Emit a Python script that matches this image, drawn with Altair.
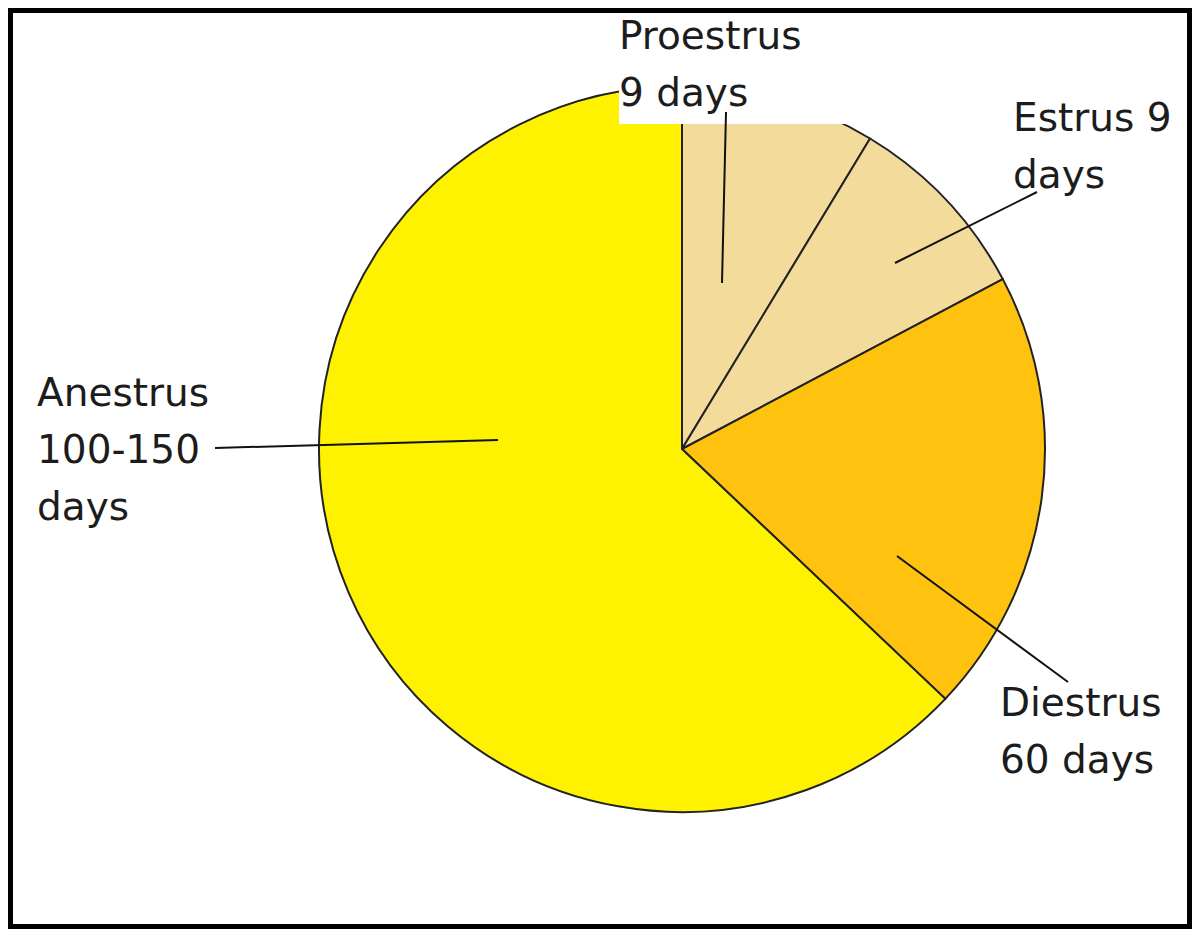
import altair as alt
import pandas as pd

# ---- data (slice sizes in degrees of the drawn pie) ----
phases = ["Proestrus", "Estrus", "Diestrus", "Anestrus"]
slice_degrees = [31.2, 30.9, 71.4, 226.5]
phase_order = [1, 2, 3, 4]
label_text = ["Proestrus\n9 days", "Estrus 9\ndays", "Diestrus\n60 days", "Anestrus\n100-150\ndays"]

# ---- styling / layout ----
colors = ["#F2DB9B", "#F2DB9B", "#FFC20F", "#FFF200"]
W, H = 1184, 921
CX, CY, R = 674, 441, 363
TWO_PI = 2 * 3.14159265

pie_df = pd.DataFrame({"phase": phases, "deg": slice_degrees, "ord": phase_order})

pie = alt.Chart(pie_df).mark_arc(
    outerRadius=R, stroke="#222222", strokeWidth=2
).encode(
    theta=alt.Theta("deg:Q", stack=True, scale=alt.Scale(range=[0, TWO_PI])),
    color=alt.Color("phase:N", scale=alt.Scale(domain=phases, range=colors), legend=None),
    order=alt.Order("ord:Q"),
    x=alt.value(CX),
    y=alt.value(CY),
)

# white box behind the Proestrus label (clips the top of the pie)
box = alt.Chart(pd.DataFrame({"k": [0]})).mark_rect(color="white").encode(
    x=alt.value(611), x2=alt.value(840), y=alt.value(0), y2=alt.value(116)
)

# leader lines (annotation layout)
lead_df = pd.DataFrame({
    "x": [714, 887, 207, 889],
    "y": [275, 255, 440, 548],
    "x2": [718, 1029, 490, 1060],
    "y2": [104, 184, 432, 674],
})
leads = alt.Chart(lead_df).mark_rule(color="#111111", strokeWidth=2).encode(
    x=alt.X("x:Q", scale=None), y=alt.Y("y:Q", scale=None),
    x2="x2:Q", y2="y2:Q",
)

# labels (annotation layout)
lab_df = pd.DataFrame({
    "t": label_text,
    "x": [611, 1005, 992, 29],
    "y": [41, 123, 708, 398],
})
labels = alt.Chart(lab_df).mark_text(
    align="left", baseline="alphabetic", font="DejaVu Sans", fontSize=39,
    lineBreak="\n", lineHeight=57, color="#1c1c1c"
).encode(
    x=alt.X("x:Q", scale=None), y=alt.Y("y:Q", scale=None), text="t:N"
)

# frame
frame = alt.Chart(pd.DataFrame({"k": [0]})).mark_rect(
    fill=None, stroke="black", strokeWidth=10
).encode(x=alt.value(0), x2=alt.value(W), y=alt.value(0), y2=alt.value(H))

chart = alt.layer(pie, box, leads, labels, frame).properties(
    width=W, height=H, padding=0, autosize=alt.AutoSizeParams(type="none")
).configure_view(stroke=None).configure(background="white")

chart.save("out.html", embed_options={"renderer": "svg", "actions": False})
